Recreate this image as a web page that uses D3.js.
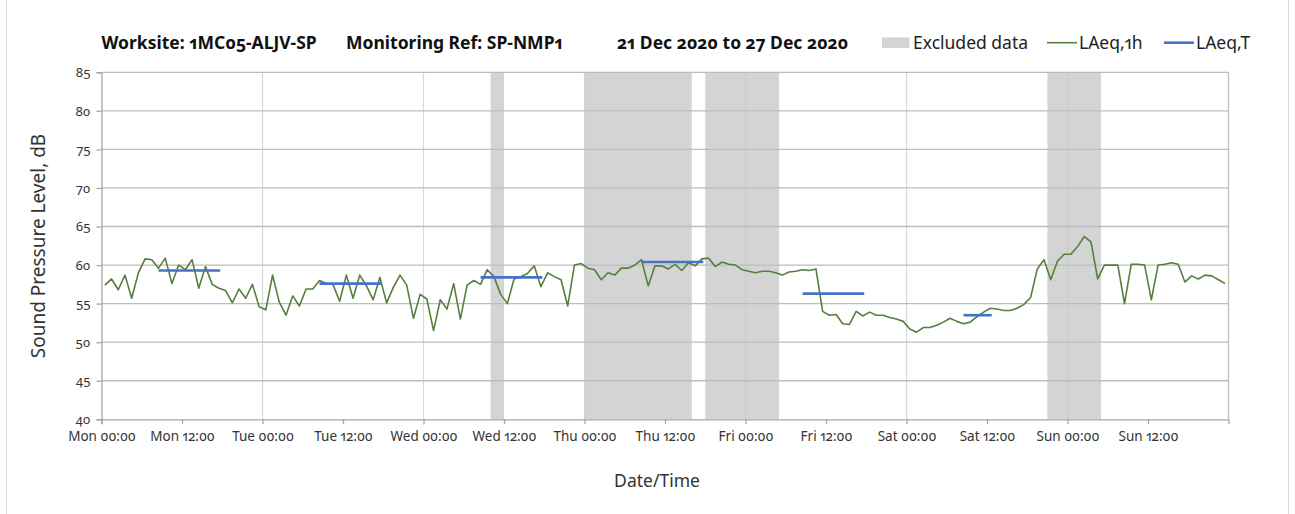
<!DOCTYPE html>
<html>
<head>
<meta charset="utf-8">
<script src="https://cdn.jsdelivr.net/npm/d3@7"></script>
<style>
  body { margin: 0; background: #fff; }
  svg text { font-family: "Noto Sans", "Open Sans", sans-serif; font-variant-numeric: oldstyle-nums proportional-nums; fill: #222; }
</style>
</head>
<body>
<svg id="chart"></svg>
<script>
// --------------------
// Data (hourly LAeq,1h)
// --------------------
const dayNames = ["Mon", "Tue", "Wed", "Thu", "Fri", "Sat", "Sun"];

const monLevels = [57.4, 58.2, 56.8, 58.7, 55.7, 59.0, 60.8, 60.7, 59.6, 60.9, 57.6, 60.0,
                   59.4, 60.7, 57.0, 59.8, 57.5, 57.0, 56.7, 55.1, 56.9, 55.7, 57.5, 54.6];
const tueLevels = [54.2, 58.7, 55.2, 53.5, 56.0, 54.7, 56.9, 56.9, 58.0, 57.6, 57.5, 55.3,
                   58.7, 55.7, 58.7, 57.3, 55.5, 58.4, 55.1, 57.1, 58.7, 57.4, 53.1, 56.2];
const wedLevels = [55.6, 51.5, 55.5, 54.3, 57.6, 53.0, 57.4, 58.0, 57.5, 59.4, 58.5, 56.2,
                   55.0, 58.2, 58.5, 58.9, 59.9, 57.2, 59.0, 58.5, 58.1, 54.7, 60.0, 60.2];
const thuLevels = [59.6, 59.4, 58.1, 59.0, 58.7, 59.6, 59.6, 60.0, 60.7, 57.3, 59.9, 59.9,
                   59.5, 60.1, 59.3, 60.3, 59.9, 60.8, 60.9, 59.8, 60.4, 60.1, 60.0, 59.4];
const friLevels = [59.2, 59.0, 59.2, 59.2, 59.0, 58.7, 59.1, 59.2, 59.4, 59.3, 59.5, 54.0,
                   53.5, 53.6, 52.4, 52.3, 54.0, 53.4, 53.9, 53.5, 53.5, 53.2, 53.0, 52.7];
const satLevels = [51.7, 51.3, 51.9, 51.9, 52.2, 52.6, 53.1, 52.7, 52.4, 52.6, 53.3, 53.9,
                   54.4, 54.3, 54.1, 54.1, 54.4, 54.9, 55.8, 59.5, 60.7, 58.1, 60.5, 61.4];
const sunLevels = [61.4, 62.4, 63.7, 63.0, 58.2, 60.0, 60.0, 60.0, 55.0, 60.1, 60.1, 60.0,
                   55.5, 60.0, 60.1, 60.3, 60.1, 57.8, 58.6, 58.2, 58.7, 58.6, 58.1, 57.6];

// LAeq,T periods: [start hour, end hour, level] (hours from Mon 00:00)
const periodStart = [8.5, 32.5, 56.5, 80.5, 104.5, 128.5];
const periodEnd   = [17.7, 41.7, 65.7, 89.7, 113.7, 132.7];
const periodLevel = [59.3, 57.6, 58.4, 60.4, 56.3, 53.5];

// Excluded data windows (hours from Mon 00:00)
const excludedStart = [58, 72, 90, 141];
const excludedEnd   = [60, 88, 101, 149];

const yTicks = [40, 45, 50, 55, 60, 65, 70, 75, 80, 85];

// --------------------
// Basic setup
// --------------------
const width = 1295;
const height = 514;
const margin = { top: 72.3, right: 66.5, bottom: 94.7, left: 101.5 };
const innerW = width - margin.left - margin.right;
const innerH = height - margin.top - margin.bottom;

const svg = d3.select("#chart")
  .attr("width", width)
  .attr("height", height);

// outer frame lines
svg.append("line").attr("x1", 6.5).attr("x2", 6.5).attr("y1", 0).attr("y2", height)
  .attr("stroke", "#d9d9d9");
svg.append("line").attr("x1", 1288.5).attr("x2", 1288.5).attr("y1", 0).attr("y2", height)
  .attr("stroke", "#d9d9d9");

const hourly = [monLevels, tueLevels, wedLevels, thuLevels, friLevels, satLevels, sunLevels]
  .flat()
  .map((v, i) => ({ t: i + 0.5, v }));

const x = d3.scaleLinear().domain([0, 168]).range([0, innerW]);
const y = d3.scaleLinear().domain([40, 85]).range([innerH, 0]);

const g = svg.append("g").attr("transform", `translate(${margin.left},${margin.top})`);

// excluded shading
g.selectAll("rect.excl")
  .data(excludedStart.map((s, i) => [s, excludedEnd[i]]))
  .join("rect")
    .attr("class", "excl")
    .attr("x", d => x(d[0]))
    .attr("width", d => x(d[1]) - x(d[0]))
    .attr("y", 0)
    .attr("height", innerH)
    .attr("fill", "#d4d4d4");

// vertical gridlines at midnight
g.selectAll("line.vgrid")
  .data(d3.range(24, 168, 24))
  .join("line")
    .attr("class", "vgrid")
    .attr("x1", d => x(d)).attr("x2", d => x(d))
    .attr("y1", 0).attr("y2", innerH)
    .attr("stroke", "#c8c8c8")
    .attr("stroke-opacity", 0.7)
    .attr("stroke-width", 1.2);

// horizontal gridlines
g.selectAll("line.hgrid")
  .data(yTicks.slice(1))
  .join("line")
    .attr("class", "hgrid")
    .attr("x1", 0).attr("x2", innerW)
    .attr("y1", d => y(d)).attr("y2", d => y(d))
    .attr("stroke", "#bdbdbd")
    .attr("stroke-width", 1.3);

// right border
g.append("line")
  .attr("x1", innerW).attr("x2", innerW).attr("y1", 0).attr("y2", innerH)
  .attr("stroke", "#bdbdbd").attr("stroke-width", 1.3);

// --------------------
// Axes
// --------------------
const xAxis = d3.axisBottom(x)
  .tickValues(d3.range(0, 168, 12))
  .tickSize(5)
  .tickFormat(d => `${dayNames[Math.floor(d / 24)]} ${d % 24 === 0 ? "00:00" : "12:00"}`);

const gx = g.append("g")
  .attr("transform", `translate(0,${innerH})`)
  .call(xAxis);
gx.select(".domain").attr("stroke", "#a6a6a6").attr("stroke-width", 1.3);
gx.selectAll(".tick line").attr("stroke", "#a6a6a6").attr("stroke-width", 1.3);
gx.selectAll(".tick text").attr("dy", "1.05em").style("font-size", "13.5px").style("fill", "#333");

const yAxis = d3.axisLeft(y)
  .tickValues(yTicks)
  .tickSize(5)
  .tickPadding(6);

const gy = g.append("g").call(yAxis);
gy.select(".domain").attr("stroke", "#a6a6a6").attr("stroke-width", 1.3);
gy.selectAll(".tick line").attr("stroke", "#a6a6a6").attr("stroke-width", 1.3);
gy.selectAll(".tick text").style("font-size", "13px").style("fill", "#333");

// --------------------
// Series
// --------------------
const line = d3.line().x(d => x(d.t)).y(d => y(d.v));

g.append("path")
  .datum(hourly)
  .attr("fill", "none")
  .attr("stroke", "#557f3c")
  .attr("stroke-width", 1.6)
  .attr("stroke-linejoin", "round")
  .attr("d", line);

g.selectAll("line.laeqt")
  .data(periodStart.map((s, i) => ({ s, e: periodEnd[i], v: periodLevel[i] })))
  .join("line")
    .attr("class", "laeqt")
    .attr("x1", d => x(d.s)).attr("x2", d => x(d.e))
    .attr("y1", d => y(d.v)).attr("y2", d => y(d.v))
    .attr("stroke", "#4472c4")
    .attr("stroke-width", 2.6);

// --------------------
// Titles
// --------------------
const titleParts = [
  { text: "Worksite: 1MC05-ALJV-SP", x: 101.5 },
  { text: "Monitoring Ref: SP-NMP1", x: 346 },
  { text: "21 Dec 2020 to 27 Dec 2020", x: 617 }
];
svg.selectAll("text.title")
  .data(titleParts)
  .join("text")
    .attr("class", "title")
    .attr("x", d => d.x)
    .attr("y", 49)
    .style("font-size", "17.5px")
    .style("font-weight", "bold")
    .style("fill", "#111")
    .text(d => d.text);

svg.append("text")
  .attr("transform", "translate(45,246) rotate(-90)")
  .attr("text-anchor", "middle")
  .style("font-size", "19px")
  .style("fill", "#333")
  .text("Sound Pressure Level, dB");

svg.append("text")
  .attr("x", 657)
  .attr("y", 487)
  .attr("text-anchor", "middle")
  .style("font-size", "17.5px")
  .style("fill", "#333")
  .text("Date/Time");

// --------------------
// Legend
// --------------------
const legend = svg.append("g").style("font-size", "17.5px");
legend.append("rect")
  .attr("x", 882).attr("y", 37.5).attr("width", 27.5).attr("height", 10.5)
  .attr("fill", "#d4d4d4");
legend.append("text").attr("x", 913).attr("y", 49).text("Excluded data");
legend.append("line")
  .attr("x1", 1047).attr("x2", 1077).attr("y1", 42.7).attr("y2", 42.7)
  .attr("stroke", "#557f3c").attr("stroke-width", 1.6);
legend.append("text").attr("x", 1079).attr("y", 49).text("LAeq,1h");
legend.append("line")
  .attr("x1", 1164).attr("x2", 1194).attr("y1", 42.7).attr("y2", 42.7)
  .attr("stroke", "#4472c4").attr("stroke-width", 2.6);
legend.append("text").attr("x", 1196).attr("y", 49).text("LAeq,T");
</script>
</body>
</html>
